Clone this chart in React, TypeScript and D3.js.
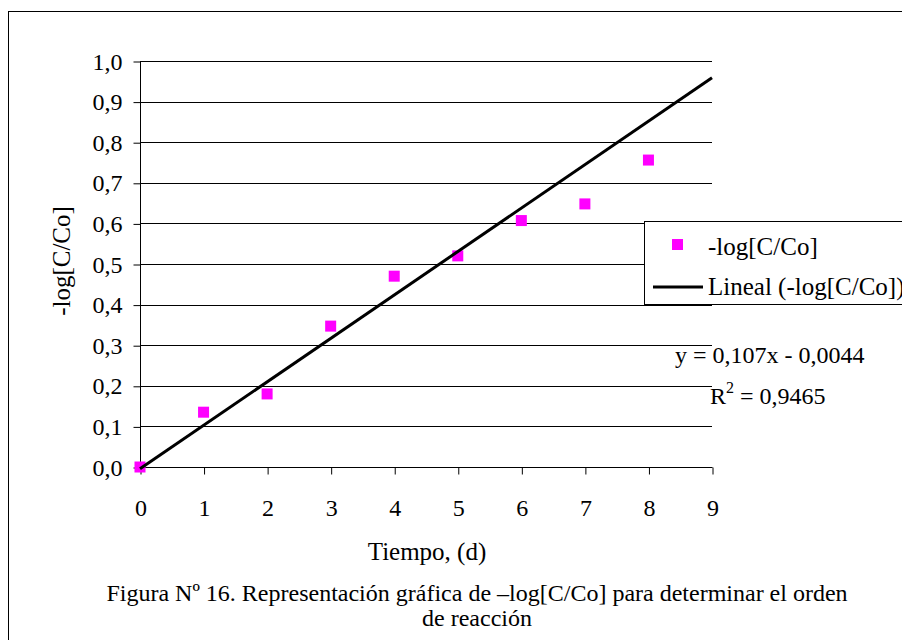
import { useRef, useEffect } from "react"
import * as d3 from "d3"

// Tiempo (d) and measured -log[C/Co]
const tiempo = [0, 1, 2, 3, 4, 5, 6, 7, 8]
const logCCo = [0.0, 0.135, 0.18, 0.347, 0.47, 0.52, 0.607, 0.648, 0.756]

// linear trendline reported on the chart
const slope = 0.107
const intercept = -0.0044
const r2Value = "0,9465"
const trendRange = [0, 9]

const xTicks = [0, 1, 2, 3, 4, 5, 6, 7, 8, 9]
const yTicks = [0, 0.1, 0.2, 0.3, 0.4, 0.5, 0.6, 0.7, 0.8, 0.9, 1.0]

const FONT = "Liberation Serif, Times New Roman, serif"

const fmt = (d: number) => d.toFixed(1).replace(".", ",")

const App = () => {
  const svgRef = useRef<SVGSVGElement>(null)

  useEffect(() => {
    const root = d3.select(svgRef.current)
    root.selectAll("*").remove()

    const W = 902
    const H = 640
    const left = 140
    const right = 712
    const top = 61
    const bottom = 467

    root.attr("width", W).attr("height", H).attr("font-family", FONT)

    // outer frame (runs off the right and bottom edges)
    root
      .append("rect")
      .attr("x", 8.5)
      .attr("y", 11.5)
      .attr("width", 920)
      .attr("height", 700)
      .attr("fill", "white")
      .attr("stroke", "black")
      .attr("stroke-width", 1)

    const x = d3.scaleLinear().domain([0, 9]).range([left, right])
    const y = d3.scaleLinear().domain([0, 1]).range([bottom, top])

    // gridlines
    root
      .append("g")
      .selectAll("line")
      .data(yTicks.slice(1))
      .enter()
      .append("line")
      .attr("x1", left)
      .attr("x2", right)
      .attr("y1", (d) => Math.round(y(d)) + 0.5)
      .attr("y2", (d) => Math.round(y(d)) + 0.5)
      .attr("stroke", "black")
      .attr("stroke-width", 1)

    // y axis
    const yAxis = root
      .append("g")
      .attr("transform", `translate(${left + 0.5},0.5)`)
      .call(
        d3
          .axisLeft(y)
          .tickValues(yTicks)
          .tickSize(7)
          .tickPadding(11)
          .tickFormat((d) => fmt(+d)),
      )
    yAxis.attr("font-family", null).attr("font-size", null)
    yAxis.select(".domain").attr("d", `M0,${top}V${bottom}`).attr("stroke", "black")
    yAxis.selectAll("line").attr("stroke", "black")
    yAxis.selectAll("text").attr("font-family", FONT).attr("font-size", 24).attr("fill", "black")

    // x axis
    const xAxis = root
      .append("g")
      .attr("transform", `translate(0.5,${bottom + 0.5})`)
      .call(d3.axisBottom(x).tickValues(xTicks).tickSize(7).tickPadding(24).tickFormat((d) => String(d)))
    xAxis.attr("font-family", null).attr("font-size", null)
    xAxis.select(".domain").attr("d", `M${left},0H${right}`).attr("stroke", "black")
    xAxis.selectAll("line").attr("stroke", "black")
    xAxis.selectAll("text").attr("font-family", FONT).attr("font-size", 24).attr("fill", "black")

    // axis titles
    root
      .append("text")
      .attr("transform", "rotate(-90)")
      .attr("x", -261)
      .attr("y", 70)
      .attr("text-anchor", "middle")
      .attr("font-size", 25)
      .text("-log[C/Co]")

    root
      .append("text")
      .attr("x", 427)
      .attr("y", 560)
      .attr("text-anchor", "middle")
      .attr("font-size", 25)
      .text("Tiempo, (d)")

    // points
    const sz = 11
    root
      .append("g")
      .selectAll("rect")
      .data(tiempo)
      .enter()
      .append("rect")
      .attr("x", (d) => x(d) - sz / 2)
      .attr("y", (d, i) => y(logCCo[i]) - sz / 2)
      .attr("width", sz)
      .attr("height", sz)
      .attr("fill", "#ff00ff")

    // trendline
    const line = d3
      .line<number>()
      .x((d) => x(d))
      .y((d) => y(slope * d + intercept))
    root
      .append("path")
      .datum(trendRange)
      .attr("d", line)
      .attr("fill", "none")
      .attr("stroke", "black")
      .attr("stroke-width", 3)

    // legend
    const lg = root.append("g")
    lg.append("rect")
      .attr("x", 644.5)
      .attr("y", 221.5)
      .attr("width", 300)
      .attr("height", 83)
      .attr("fill", "white")
      .attr("stroke", "black")
    lg.append("rect").attr("x", 672).attr("y", 239).attr("width", sz).attr("height", sz).attr("fill", "#ff00ff")
    lg.append("text").attr("x", 708).attr("y", 255).attr("font-size", 25).text("-log[C/Co]")
    lg.append("line")
      .attr("x1", 653)
      .attr("x2", 703)
      .attr("y1", 287)
      .attr("y2", 287)
      .attr("stroke", "black")
      .attr("stroke-width", 3)
    lg.append("text").attr("x", 708).attr("y", 295).attr("font-size", 25).text("Lineal (-log[C/Co])")

    // equation
    root
      .append("text")
      .attr("x", 675)
      .attr("y", 363)
      .attr("font-size", 24)
      .text(`y = ${String(slope).replace(".", ",")}x - ${String(-intercept).replace(".", ",")}`)
    const r2 = root.append("text").attr("x", 710).attr("y", 404).attr("font-size", 24)
    r2.append("tspan").text("R")
    r2.append("tspan").attr("dy", -11).attr("font-size", 16).text("2")
    r2.append("tspan").attr("dy", 11).text(` = ${r2Value}`)

    // caption
    root
      .append("text")
      .attr("x", 477)
      .attr("y", 601)
      .attr("text-anchor", "middle")
      .attr("font-size", 24)
      .text("Figura Nº 16. Representación gráfica de –log[C/Co] para determinar el orden")
    root
      .append("text")
      .attr("x", 477)
      .attr("y", 626)
      .attr("text-anchor", "middle")
      .attr("font-size", 24)
      .text("de reacción")
  }, [])

  return (
    <div style={{ position: "absolute", left: 0, top: 0 }}>
      <svg ref={svgRef} style={{ display: "block" }}></svg>
    </div>
  )
}

export default App
